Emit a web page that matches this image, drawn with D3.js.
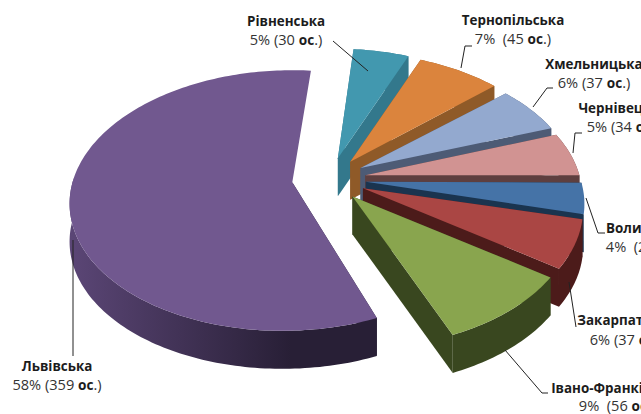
<!DOCTYPE html>
<html>
<head>
<meta charset="utf-8">
<script src="https://cdn.jsdelivr.net/npm/d3@7"></script>
<style>
  html, body { margin: 0; padding: 0; background: #fff; overflow: hidden; }
  text { font-family: "Open Sans", sans-serif; fill: #333; }
  .name { font-size: 13.4px; font-weight: bold; fill: #1c1c1c; }
  .value { font-size: 14.6px; }
  .value .os { font-size: 13.6px; font-weight: bold; fill: #1c1c1c; }
</style>
</head>
<body>
<script>
// regions, clockwise from 3 o'clock, painted back to front afterwards
var regions = ["Волинська", "Закарпатська", "Івано-Франківська", "Львівська", "Рівненська", "Тернопільська", "Хмельницька", "Чернівецька"];
var people  = [24, 37, 56, 359, 30, 45, 37, 34];
var percents = ["4%\u00a0", "6%", "9%\u00a0", "58%", "5%", "7%\u00a0", "6%", "5%"];
var topColors  = ["#4573a7", "#aa4644", "#89a54e", "#71588f", "#4298af", "#db843d", "#93a9cf", "#d19392"];
var wallStart  = ["#1a344f", "#4c1b1a", "#39471f", "#5b4676", "#33788c", "#8f5a28", "#4d5b75", "#5e3f3f"];
var wallEnd    = ["#1a344f", "#4c1b1a", "#39471f", "#281f36", "#33788c", "#8f5a28", "#4d5b75", "#5e3f3f"];

var width = 641, height = 414;
var cx = 329, cy = 179, rx = 215, squash = 0.59, persp = 0.14, explode = 0.172, depth = 38;
var VOLYN = 0, LVIV = 3;
// small per slice corrections of the rim, the real chart is not a perfect ellipse
var rimShift = [[0, 1], [0, -1], [1, -2], [-4, 0], [-1, -3], [0, -2], [1, 0], [0, 0]];

var svg = d3.select("body").append("svg")
  .attr("width", width).attr("height", height);

var pie = d3.pie().sort(null)
  .startAngle(Math.PI / 2).endAngle(Math.PI * 2.5);
var arcs = pie(people);

// disc coordinates -> screen
function project(x, y) {
  var s = 1 / (1 + persp * y);
  return [cx + rx * x * s, cy - rx * squash * y * s];
}

var line = d3.line();

var slices = arcs.map(function(a, i) {
  var mid = (a.startAngle + a.endAngle) / 2;
  var ox = explode * Math.sin(mid), oy = explode * Math.cos(mid);
  var n = Math.ceil((a.endAngle - a.startAngle) / 0.02);
  var rim = d3.range(n + 1).map(function(k) {
    var t = a.startAngle + (a.endAngle - a.startAngle) * k / n;
    var p = project(ox + Math.sin(t), oy + Math.cos(t));
    return [p[0] + rimShift[i][0], p[1] + rimShift[i][1]];
  });
  return { i: i, apex: project(ox, oy), rim: rim };
});

var defs = svg.append("defs");
slices.forEach(function(d) {
  var xs = d.rim.map(function(p) { return p[0]; });
  var g = defs.append("linearGradient").attr("id", "wall" + d.i)
    .attr("gradientUnits", "userSpaceOnUse")
    .attr("x1", d3.min(xs)).attr("x2", d3.max(xs)).attr("y1", 0).attr("y2", 0);
  g.append("stop").attr("offset", 0).attr("stop-color", wallStart[d.i]);
  g.append("stop").attr("offset", 0.72).attr("stop-color", wallEnd[d.i]);
  g.append("stop").attr("offset", 1).attr("stop-color", wallEnd[d.i]);
});

function down(p) { return [p[0], p[1] + depth]; }

slices.slice().sort(function(a, b) { return a.apex[1] - b.apex[1]; }).forEach(function(d) {
  var first = d.rim[0], last = d.rim[d.rim.length - 1];
  var fill = "url(#wall" + d.i + ")";
  var walls = [[d.apex, first, down(first), down(d.apex)]];

  // the big slice only shows its rim wall on the front half, and no wall on its far edge
  var frontRim = d.i === LVIV ? d.rim.slice(0, Math.round(d.rim.length * 0.55)) : d.rim;
  if (d.i !== VOLYN) walls.push(frontRim.concat(frontRim.slice().reverse().map(down)));
  if (d.i !== LVIV) walls.push([last, d.apex, down(d.apex), down(last)]);

  var g = svg.append("g");
  g.selectAll("path.wall").data(walls).enter().append("path")
    .attr("class", "wall")
    .attr("d", function(w) { return line(w) + "Z"; })
    .attr("fill", fill);
  g.append("path")
    .attr("d", line([d.apex].concat(d.rim)) + "Z")
    .attr("fill", topColors[d.i]);

  if (d.i === LVIV) {
    // dark strip just inside the far edge
    var along = d3.interpolate(d.apex, last);
    var a = along(0.02), b = along(0.75);
    g.append("path")
      .attr("d", line([[a[0] - 1, a[1]], [b[0] - 1, b[1]], [a[0] - 6, a[1] - 3]]) + "Z")
      .attr("fill", "#5d4a7b");
  }
});

// leader lines
var leaders = [
  [[586, 198], [598, 233], [605, 233]],
  [[569, 282], [576, 327]],
  [[505, 350], [542, 393], [548, 393]],
  [[73, 240], [73, 356]],
  [[368, 71], [333, 41]],
  [[461, 68], [465, 46], [472, 46]],
  [[533, 107], [547, 88], [553, 88]],
  [[573, 153], [575, 133], [582, 133]]
];
svg.selectAll("path.leader").data(leaders).enter().append("path")
  .attr("class", "leader")
  .attr("d", function(d) { return line(d); })
  .attr("fill", "none").attr("stroke", "#222").attr("stroke-width", 1);

// labels
var labelPos = [[644, 233, 252], [626, 325, 345], [617, 393, 411], [57, 371, 390], [286, 26, 45], [513, 25, 44], [594, 69, 88], [623, 113, 132]];
labelPos.forEach(function(p, i) {
  svg.append("text").attr("class", "name").attr("text-anchor", "middle")
    .attr("x", p[0]).attr("y", p[1]).text(regions[i]);
  var t = svg.append("text").attr("class", "value").attr("text-anchor", "middle")
    .attr("x", p[0]).attr("y", p[2]);
  t.append("tspan").text(percents[i] + " (" + people[i] + " ");
  t.append("tspan").attr("class", "os").text("ос");
  t.append("tspan").text(".)");
});
</script>
</body>
</html>
